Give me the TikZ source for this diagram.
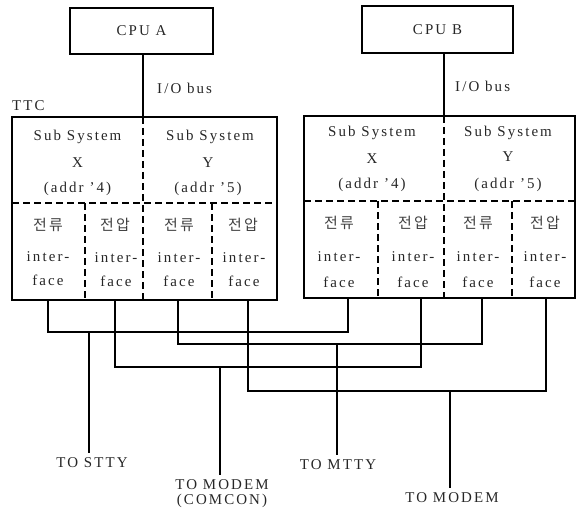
\documentclass[tikz,border=0pt]{standalone}
\usepackage{fontspec}
\setmainfont{Liberation Serif}[LetterSpace=14]
\newfontfamily\krfont{Noto Sans CJK KR}[LetterSpace=14]
\begin{document}
\begin{tikzpicture}[x=1bp,y=-1bp,
  box/.style={draw, line width=1.8bp, inner sep=0pt, outer sep=0pt},
  wire/.style={line width=1.6bp},
  dsh/.style={line width=1.6bp, dash pattern=on 7bp off 4bp},
  txt/.style={font=\fontsize{15}{17}\selectfont, text=black!85, inner sep=0pt},
  kr/.style={font=\fontsize{15}{17}\selectfont\krfont, text=black!75, inner sep=0pt},
  lbl/.style={txt, anchor=north, inner sep=4bp, align=center}]
\useasboundingbox (0,0) rectangle (578,509);

% CPUs
\node[box, txt, minimum width=143bp, minimum height=46bp] (cpuA) at (141.5,31) {CPU A};
\node[box, txt, minimum width=151bp, minimum height=47bp] (cpuB) at (437.5,29.5) {CPU B};

% TTC boxes
\node[box, minimum width=265bp, minimum height=183bp] (ttcA) at (144.5,208.5) {};
\node[box, minimum width=271bp, minimum height=182bp] (ttcB) at (439.5,207) {};

\node[txt, anchor=west] (ttc) at (12,106) {TTC};

% I/O buses
\coordinate (busA) at (143,117);
\coordinate (busB) at (444,116);
\draw[wire] (busA |- cpuA.south) -- (busA);
\draw[wire] (busB |- cpuB.south) -- (busB);
\node[txt, anchor=west] (ioA) at (157,88) {I/O bus};
\node[txt, anchor=west] (ioB) at (455,86) {I/O bus};

% dashed dividers, box A
\draw[dsh] (12,203) -- (277,203);
\draw[dsh] (143,117) -- (143,300);
\draw[dsh] (85,203) -- (85,300);
\draw[dsh] (212,203) -- (212,300);
% dashed dividers, box B
\draw[dsh] (304,201) -- (575,201);
\draw[dsh] (444,116) -- (444,298);
\draw[dsh] (378,201) -- (378,298);
\draw[dsh] (512,201) -- (512,298);

% texts box A
\node[txt] (aSX1) at (77.5,137) {Sub System};
\node[txt] (aSX2) at (77.5,163) {X};
\node[txt] (aSX3) at (77.5,189) {(addr '4)};
\node[txt] (aSY1) at (210,137) {Sub System};
\node[txt] (aSY2) at (208,163) {Y};
\node[txt] (aSY3) at (208,189) {(addr '5)};
\node[kr]  (aC1a) at (48,225) {전류};
\node[txt] (aC1b) at (48,257) {inter-};
\node[txt] (aC1c) at (48,280) {face};
\node[kr]  (aC2a) at (115,225) {전압};
\node[txt] (aC2b) at (116,258) {inter-};
\node[txt] (aC2c) at (116,281) {face};
\node[kr]  (aC3a) at (179,225) {전류};
\node[txt] (aC3b) at (179,258) {inter-};
\node[txt] (aC3c) at (179,281) {face};
\node[kr]  (aC4a) at (243,225) {전압};
\node[txt] (aC4b) at (244,258) {inter-};
\node[txt] (aC4c) at (244,281) {face};

% texts box B
\node[txt] (bSX1) at (372,133) {Sub System};
\node[txt] (bSX2) at (372,159) {X};
\node[txt] (bSX3) at (372,185) {(addr '4)};
\node[txt] (bSY1) at (508,133) {Sub System};
\node[txt] (bSY2) at (508,157) {Y};
\node[txt] (bSY3) at (508,185) {(addr '5)};
\node[kr]  (bC1a) at (339,223) {전류};
\node[txt] (bC1b) at (339,257) {inter-};
\node[txt] (bC1c) at (339,282) {face};
\node[kr]  (bC2a) at (413,223) {전압};
\node[txt] (bC2b) at (413,257) {inter-};
\node[txt] (bC2c) at (413,282) {face};
\node[kr]  (bC3a) at (478,223) {전류};
\node[txt] (bC3b) at (478,257) {inter-};
\node[txt] (bC3c) at (478,282) {face};
\node[kr]  (bC4a) at (545,223) {전압};
\node[txt] (bC4b) at (545,257) {inter-};
\node[txt] (bC4c) at (545,282) {face};

% taps
\coordinate (a1) at (48,300);
\coordinate (a2) at (115,300);
\coordinate (a3) at (178,300);
\coordinate (a4) at (248,300);
\coordinate (b1) at (348,298);
\coordinate (b2) at (421,298);
\coordinate (b3) at (482,298);
\coordinate (b4) at (546,298);

\draw[wire] (a1) -- ++(0,32) -| (b1);
\draw[wire] (a3) -- ++(0,44) -| (b3);
\draw[wire] (a2) -- ++(0,67) -| (b2);
\draw[wire] (a4) -- ++(0,91) -| (b4);

% drops
\coordinate (j1) at (89,332);
\coordinate (j2) at (337,344);
\coordinate (j3) at (220,367);
\coordinate (j4) at (450,391);

\node[lbl] (stty) at (92,453) {TO STTY};
\node[lbl, font=\fontsize{15}{15}\selectfont] (comcon) at (222,475) {TO MODEM\\(COMCON)};
\node[lbl] (mtty) at (338,455) {TO MTTY};
\node[lbl] (modem) at (452,488) {TO MODEM};

\draw[wire] (j1) -- (j1 |- stty.north);
\draw[wire] (j3) -- (j3 |- comcon.north);
\draw[wire] (j2) -- (j2 |- mtty.north);
\draw[wire] (j4) -- (j4 |- modem.north);
\end{tikzpicture}
\end{document}
